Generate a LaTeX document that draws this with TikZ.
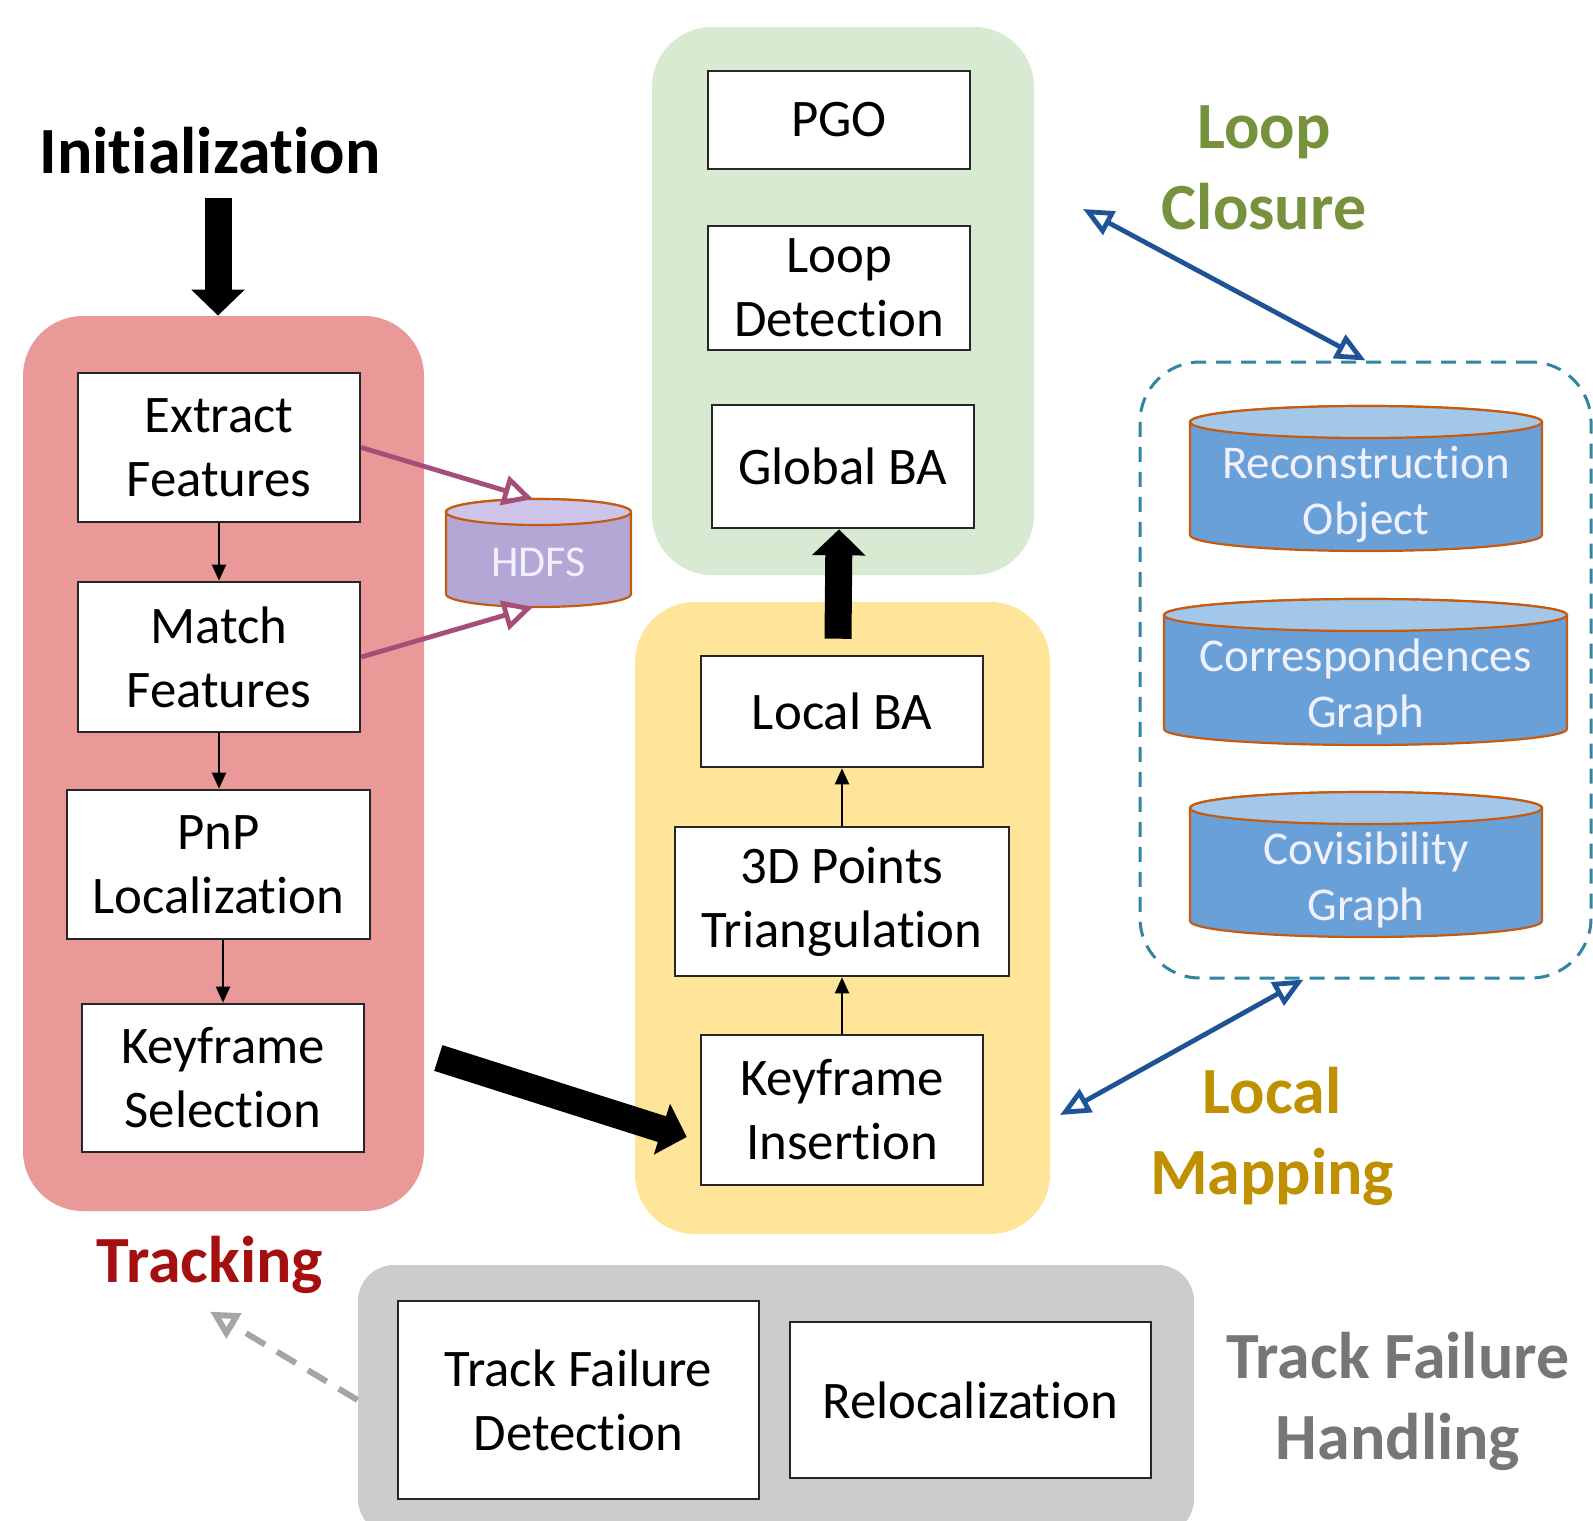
\documentclass[tikz,border=0pt]{standalone}
\usepackage{fontspec}
\setmainfont{Carlito}[Ligatures={NoCommon,NoContextual}]
\usetikzlibrary{arrows.meta}
\newcommand\nti{t\kern0pt i}
\definecolor{trkfill}{RGB}{234,153,153}
\definecolor{lcfill}{RGB}{217,234,211}
\definecolor{lmfill}{RGB}{255,229,153}
\definecolor{tffill}{RGB}{204,204,204}
\definecolor{lctext}{RGB}{118,146,60}
\definecolor{lmtext}{RGB}{191,144,0}
\definecolor{trktext}{RGB}{165,15,15}
\definecolor{tftext}{RGB}{118,118,118}
\definecolor{pinkarr}{RGB}{166,77,121}
\definecolor{bluearr}{RGB}{30,84,150}
\definecolor{dashc}{RGB}{49,133,160}
\definecolor{cylborder}{RGB}{197,90,17}
\definecolor{bluebody}{RGB}{106,160,216}
\definecolor{bluetop}{RGB}{163,199,233}
\definecolor{purbody}{RGB}{180,167,214}
\definecolor{purtop}{RGB}{205,196,232}
\definecolor{grayarr}{RGB}{165,165,165}
\newcommand\dbcyl[7]{%
  \filldraw[cylline, fill=#6] (#1,#2) ++(-#3,0pt) -- ++(0pt,-#5)
    arc[start angle=180,end angle=360,x radius=#3,y radius=#4] -- ++(0pt,#5)
    arc[start angle=0,end angle=180,x radius=#3,y radius=#4] -- cycle;
  \filldraw[cylline, fill=#7] (#1,#2) ellipse[x radius=#3, y radius=#4];
}
\tikzset{
  box/.style={draw=black!85, line width=1.3pt, fill=white, align=center,
    font=\fontsize{26.4pt}{32pt}\selectfont, inner sep=0pt},
  group/.style={rounded corners=30pt, inner sep=0pt},
  title/.style={font=\fontsize{33pt}{40.5pt}\selectfont\bfseries, align=center, inner sep=0pt},
  cyltext/.style={text=white!94!blue, font=\fontsize{23.5pt}{28pt}\selectfont, align=center, inner sep=0pt},
  cylline/.style={draw=cylborder, line width=1.1pt},
  thinarrow/.style={draw=black, line width=1pt, -{Triangle[length=8pt,width=7pt]}},
  bigarrow/.style={draw=black, line width=13.5pt, -{Triangle[length=13pt,width=26pt]}},
  pinkarrow/.style={draw=pinkarr, line width=2.4pt, -{Triangle[open,length=15pt,width=15pt]}},
  bluearrow/.style={draw=bluearr, line width=2.4pt,
    {Triangle[open,length=15pt,width=13pt]}-{Triangle[open,length=15pt,width=13pt]}},
  grayarrow/.style={draw=grayarr, line width=3pt, dash pattern=on 11pt off 7pt,
    -{Triangle[open,length=14pt,width=14pt]}},
}
\begin{document}
\begin{tikzpicture}[x=0.5pt,y=-0.5pt]
\useasboundingbox (0,0) rectangle (1593,1520);
\clip (0,0) rectangle (1593,1520);
% groups
\node[group, fill=trkfill, minimum width=200.5pt, minimum height=447.5pt] (trk) at (223.5,763.5) {};
\node[group, fill=lcfill, minimum width=191pt, minimum height=274pt] (lc) at (843,301) {};
\node[group, fill=lmfill, minimum width=207.5pt, minimum height=316pt] (lm) at (842.5,918) {};
\node[group, fill=tffill, rounded corners=18pt, minimum width=418pt, minimum height=135pt] (tf) at (776,1400) {};
\node[group, draw=dashc, line width=1.5pt, dash pattern=on 7.5pt off 5pt, minimum width=225.5pt, minimum height=308pt] (dsh) at (1365.5,670) {};
% tracking boxes
\node[box, minimum width=141pt, minimum height=74.5pt] (ef) at (219,447.5) {Extract\\Features};
\node[box, minimum width=141pt, minimum height=75pt] (mf) at (219,657) {Match\\Features};
\node[box, minimum width=151.5pt, minimum height=74.5pt] (pnp) at (218.5,864.5) {PnP\\Localiza\nti on};
\node[box, minimum width=141pt, minimum height=74pt] (ks) at (223,1078) {Keyframe\\Selec\nti on};
% loop closure boxes
\node[box, minimum width=131pt, minimum height=49pt] (pgo) at (839,120) {PGO};
\node[box, minimum width=131pt, minimum height=62pt] (ld) at (839,288) {Loop\\Detec\nti on};
\node[box, minimum width=131pt, minimum height=61.5pt] (gba) at (843,466.5) {Global BA};
% local mapping boxes
\node[box, minimum width=141pt, minimum height=55.5pt] (lba) at (842,711.5) {Local BA};
\node[box, minimum width=167pt, minimum height=74.5pt] (tri) at (842,901.5) {3D Points\\Triangula\nti on};
\node[box, minimum width=141pt, minimum height=75pt] (ki) at (842,1110) {Keyframe\\Inser\nti on};
% track failure boxes
\node[box, minimum width=180.5pt, minimum height=99pt] (tfd) at (578.5,1400) {Track Failure\\Detec\nti on};
\node[box, minimum width=180.5pt, minimum height=78pt] (reloc) at (970.5,1400) {Relocaliza\nti on};
% cylinders
\dbcyl{538.5}{512}{46.25pt}{6.5pt}{41pt}{purbody}{purtop}
\dbcyl{1366}{422}{88pt}{8pt}{56.5pt}{bluebody}{bluetop}
\dbcyl{1365.5}{615}{100.75pt}{8pt}{57pt}{bluebody}{bluetop}
\dbcyl{1366}{808}{88pt}{8pt}{56.5pt}{bluebody}{bluetop}
\node[cyltext, font=\fontsize{22pt}{26pt}\selectfont] (hdfs) at (538.5,562) {HDFS};
\node[cyltext] (rec) at (1366,494) {Reconstruc\nti on\\Object};
\node[cyltext] (cor) at (1365.5,687) {Correspondences\\Graph};
\node[cyltext] (cov) at (1366,880) {Covisibility\\Graph};
\coordinate (hdfstop) at (533,499);
\coordinate (hdfsbot) at (533,607);
% titles
\node[title, anchor=base] (init) at (210,173) {Ini\nti aliza\nti on};
\node[title, text=lctext] (lclab) at (1264,168) {Loop\\Closure};
\node[title, text=lmtext] (lmlab) at (1272,1136) {Local\\Mapping};
\node[title, text=trktext, anchor=base] (trklab) at (210,1282) {Tracking};
\node[title, text=tftext] (tflab) at (1398,1401) {Track Failure\\Handling};
% connectors
\draw[thinarrow] (ef.south) -- (mf.north);
\draw[thinarrow] (mf.south) -- (mf.south |- pnp.north);
\draw[thinarrow] (pnp.south -| ks.north) -- (ks.north);
\draw[thinarrow] (ki.north) -- (tri.south);
\draw[thinarrow] (tri.north) -- (lba.south);
\draw[bigarrow] ([xshift=4pt,yshift=-12pt]init.south) -- ([xshift=4pt]init.south |- trk.north);
\draw[bigarrow] ([xshift=-2pt,yshift=8pt]lba.north) -- ([xshift=-2pt]gba.south);
\draw[bigarrow] ([xshift=36.5pt,yshift=10pt]ks.east) -- ([xshift=-6.5pt,yshift=-13.5pt]ki.west);
\draw[pinkarrow] (ef.east) -- (hdfstop);
\draw[pinkarrow] (mf.east) -- (hdfsbot);
\coordinate (lcend) at (1083,209);
\coordinate (lmend) at (1060,1115);
\draw[bluearrow] (lcend) -- (dsh.north);
\draw[bluearrow] (lmend) -- ([xshift=-31pt]dsh.south);
\draw[grayarrow] (tf.west) -- ([yshift=-9pt]trklab.south);
\end{tikzpicture}
\end{document}
